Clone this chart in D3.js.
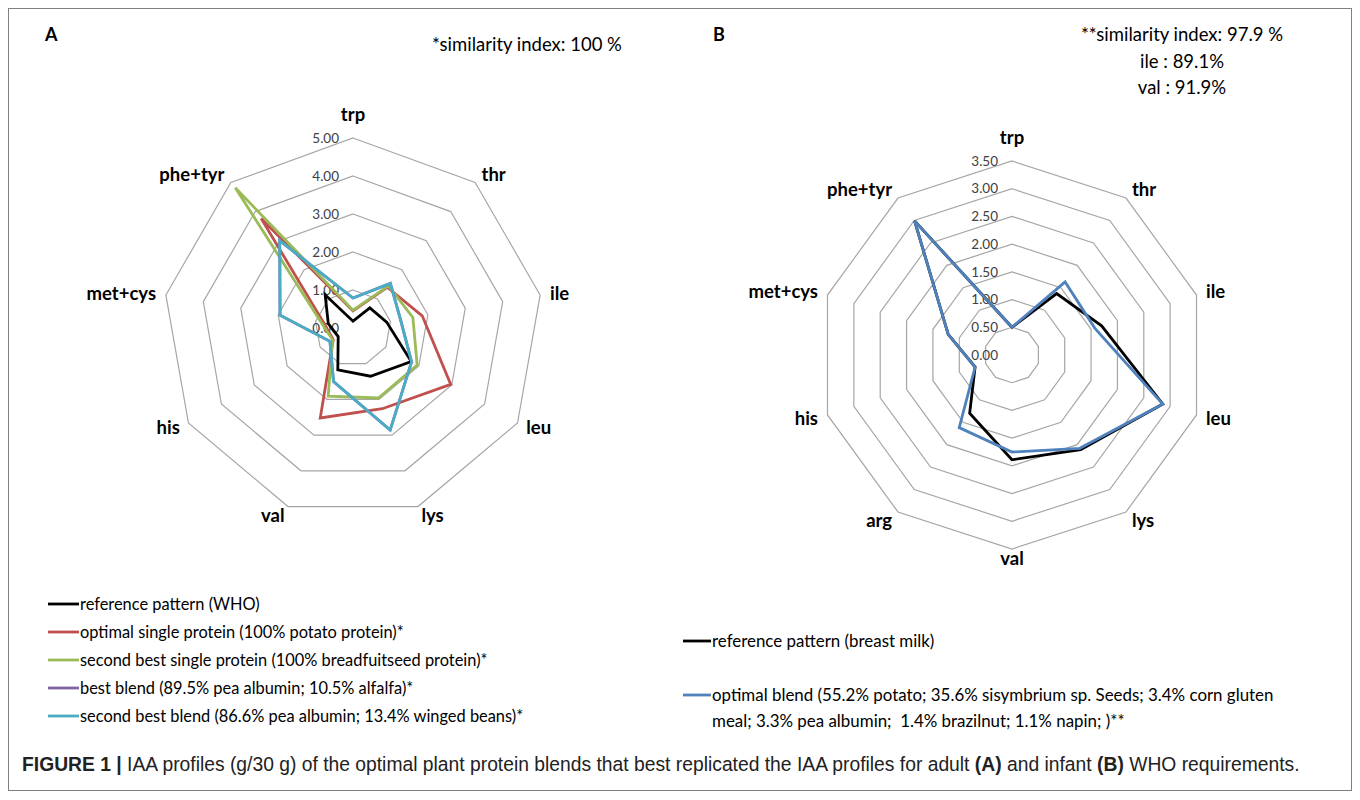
<!DOCTYPE html>
<html>
<head>
<meta charset="utf-8">
<script src="https://cdn.jsdelivr.net/npm/d3@7"></script>
<style>
  body { margin: 0; background: #fff; }
  svg { display: block; }
  text { white-space: pre; }
</style>
</head>
<body>
<script>
// panel A: adult WHO requirements (g/30 g)
var axesA = ["trp", "thr", "ile", "leu", "lys", "val", "his", "met+cys", "phe+tyr"];
var whoA        = [0.18, 0.69, 0.90, 1.77, 1.35, 1.17, 0.45, 0.66, 1.14];
var potato      = [0.45, 1.40, 1.85, 2.97, 2.26, 2.52, 0.60, 0.78, 3.76];
var breadfruit  = [0.47, 1.45, 1.60, 1.95, 1.96, 1.91, 0.62, 0.85, 4.82];
var bestBlend   = [0.79, 1.53, 1.27, 1.78, 2.86, 1.50, 0.70, 1.95, 3.00];
var secondBlend = [0.79, 1.53, 1.27, 1.78, 2.86, 1.50, 0.70, 1.95, 3.00];
var ticksA = [0, 1, 2, 3, 4, 5];
var namesA = ["reference pattern (WHO)",
              "optimal single protein (100% potato protein)*",
              "second best single protein (100% breadfuitseed protein)*",
              "best blend (89.5% pea albumin; 10.5% alfalfa)*",
              "second best blend (86.6% pea albumin; 13.4% winged beans)*"];

// panel B: infant requirements (g/30 g)
var axesB = ["trp", "thr", "ile", "leu", "lys", "val", "arg", "his", "met+cys", "phe+tyr"];
var milkB    = [0.50, 1.37, 1.70, 2.86, 2.11, 1.89, 1.30, 0.70, 1.21, 2.99];
var optimalB = [0.50, 1.63, 1.57, 2.86, 2.08, 1.75, 1.62, 0.70, 1.21, 2.99];
var ticksB = [0, 0.5, 1, 1.5, 2, 2.5, 3, 3.5];
var namesB = ["reference pattern (breast milk)",
              ["optimal blend (55.2% potato; 35.6% sisymbrium sp. Seeds; 3.4% corn gluten",
               "meal; 3.3% pea albumin;  1.4% brazilnut; 1.1% napin; )**"]];

var colorsA = ["#000000", "#c0504d", "#9bbb59", "#8064a2", "#4bacc6"];
var colorsB = ["#000000", "#4f81bd"];

var font = "Lato, 'Open Sans', sans-serif";

var svg = d3.select("body").append("svg")
    .attr("width", 1360)
    .attr("height", 800);

// frame round the figure
svg.append("rect")
    .attr("x", 8.5).attr("y", 8.5)
    .attr("width", 1343).attr("height", 782)
    .attr("fill", "none")
    .attr("stroke", "#7f7f7f")
    .attr("stroke-width", 1);

function drawRadar(g, axes, ticks, series, colors) {
    var n = axes.length;
    var max = ticks[ticks.length - 1];
    var r = d3.scaleLinear().domain([0, max]).range([0, g.radius]);
    var angle = function(i) { return i * 2 * Math.PI / n; };
    var pt = function(v, i) { return [r(v) * Math.sin(angle(i)), -r(v) * Math.cos(angle(i))]; };

    var root = svg.append("g")
        .attr("transform", "translate(" + g.cx + "," + g.cy + ")");

    // rings
    root.selectAll(".ring")
        .data(ticks.filter(function(t) { return t > 0; }))
        .enter().append("polygon")
        .attr("class", "ring")
        .attr("points", function(t) {
            return axes.map(function(a, i) { return pt(t, i).join(","); }).join(" ");
        })
        .attr("fill", "none")
        .attr("stroke", "#a6a6a6")
        .attr("stroke-width", 1.2);

    // tick labels
    root.selectAll(".tick")
        .data(ticks)
        .enter().append("text")
        .attr("x", -14)
        .attr("y", function(t) { return -r(t); })
        .attr("dy", "0.35em")
        .attr("text-anchor", "end")
        .attr("font-family", font)
        .attr("font-size", 13.5)
        .attr("fill", "#404040")
        .text(function(t) { return t.toFixed(2); });

    // series
    var line = d3.line();
    series.forEach(function(vals, k) {
        root.append("path")
            .attr("d", line(vals.map(pt)) + "Z")
            .attr("fill", "none")
            .attr("stroke", colors[k])
            .attr("stroke-width", 2.8)
            .attr("stroke-linejoin", "miter");
    });

    // axis labels
    root.selectAll(".axlabel")
        .data(axes)
        .enter().append("text")
        .attr("x", function(a, i) { return (g.radius + 10) * Math.sin(angle(i)); })
        .attr("y", function(a, i) {
            if (i === 0) return -g.radius - 23;
            return -(g.radius + 10) * Math.cos(angle(i));
        })
        .attr("dy", "0.35em")
        .attr("text-anchor", function(a, i) {
            var s = Math.sin(angle(i));
            return s > 0.1 ? "start" : (s < -0.1 ? "end" : "middle");
        })
        .attr("font-family", font)
        .attr("font-weight", "bold")
        .attr("font-size", 18.5)
        .attr("fill", "#000")
        .text(function(a) { return a; });
}

drawRadar({cx: 353, cy: 328, radius: 190}, axesA, ticksA,
          [whoA, potato, breadfruit, bestBlend, secondBlend], colorsA);
drawRadar({cx: 1012, cy: 355, radius: 194}, axesB, ticksB,
          [milkB, optimalB], colorsB);

// panel letters and similarity notes
function label(x, y, txt, opts) {
    opts = opts || {};
    svg.append("text")
        .attr("x", x).attr("y", y)
        .attr("text-anchor", opts.anchor || "start")
        .attr("font-family", font)
        .attr("font-size", opts.size || 18.5)
        .attr("font-weight", opts.weight || "normal")
        .attr("fill", "#000")
        .text(txt);
}
label(45, 41, "A", {weight: "bold", size: 18});
label(713, 41, "B", {weight: "bold", size: 18});
label(527, 51, "*similarity index: 100 %", {anchor: "middle"});
label(1182, 41, "**similarity index: 97.9 %", {anchor: "middle"});
label(1182, 68, "ile : 89.1%", {anchor: "middle"});
label(1182, 94, "val : 91.9%", {anchor: "middle"});

// legend A
var legA = svg.selectAll(".legA")
    .data(namesA)
    .enter().append("g")
    .attr("transform", function(d, i) { return "translate(48," + (604 + i * 28) + ")"; });
legA.append("line")
    .attr("x1", 0).attr("x2", 31)
    .attr("stroke", function(d, i) { return colorsA[i]; })
    .attr("stroke-width", 2.8);
legA.append("text")
    .attr("x", 32)
    .attr("dy", "0.35em")
    .attr("font-family", font)
    .attr("font-size", 16.4)
    .text(function(d) { return d; });

// legend B
var legB = svg.selectAll(".legB")
    .data(namesB)
    .enter().append("g")
    .attr("transform", function(d, i) { return "translate(683," + (641 + i * 54) + ")"; });
legB.append("line")
    .attr("x1", 0).attr("x2", 28)
    .attr("stroke", function(d, i) { return colorsB[i]; })
    .attr("stroke-width", 2.8);
legB.append("text")
    .attr("font-family", font)
    .attr("font-size", 16.9)
    .selectAll("tspan")
    .data(function(d) { return [].concat(d); })
    .enter().append("tspan")
    .attr("x", 29)
    .attr("y", function(d, i) { return i * 26; })
    .attr("dy", "0.35em")
    .text(function(d) { return d; });

// caption
var cap = svg.append("text")
    .attr("x", 22).attr("y", 771)
    .attr("font-family", "'Liberation Sans', Arial, sans-serif")
    .attr("font-size", 19.3)
    .attr("fill", "#222");
cap.append("tspan").attr("font-weight", "bold").text("FIGURE 1 | ");
cap.append("tspan").text("IAA profiles (g/30 g) of the optimal plant protein blends that best replicated the IAA profiles for adult ");
cap.append("tspan").attr("font-weight", "bold").text("(A)");
cap.append("tspan").text(" and infant ");
cap.append("tspan").attr("font-weight", "bold").text("(B)");
cap.append("tspan").text(" WHO requirements.");
</script>
</body>
</html>
